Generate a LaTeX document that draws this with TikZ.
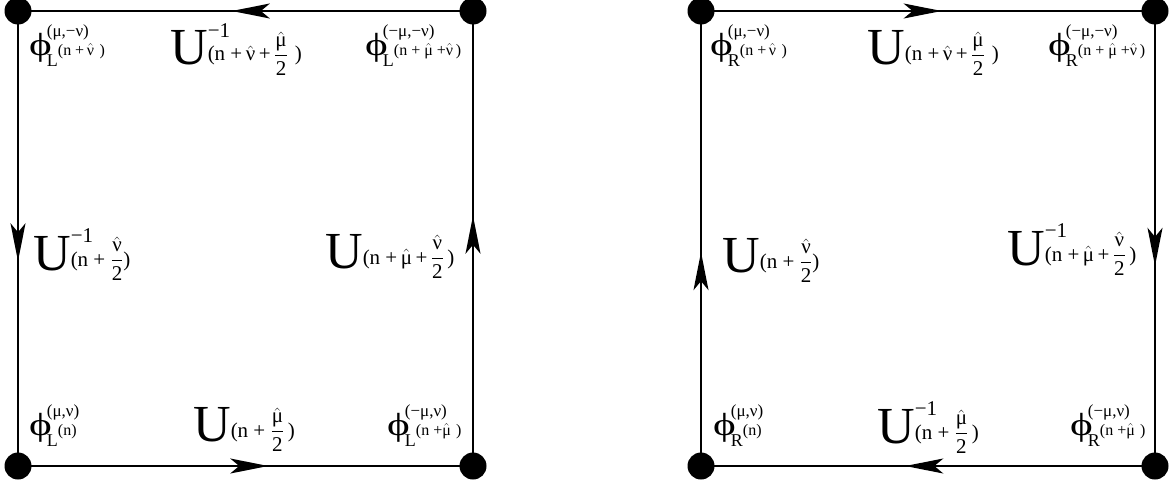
\documentclass[tikz,border=0pt]{standalone}
\usepackage{amsmath}
\usepackage{graphicx}
\usepackage{fontspec}
\setmainfont{Liberation Serif}
\usetikzlibrary{arrows.meta,decorations.markings}

% hatted greek letter and half of it
\newcommand{\hgr}[1]{\ensuremath{\hat{\text{#1}}}}
\newcommand{\hlf}[1]{\ensuremath{\dfrac{\text{#1}}{\text{2}}}}
% field at a corner: #1 = L/R, #2 = upper index, #3 = site
\newcommand{\fld}[3]{\scalebox{1.35}[1]{\fontsize{32}{32}\selectfont ϕ}\kern-5pt%
  \rlap{\raisebox{19pt}{\fontsize{17}{17}\selectfont #2}}%
  \raisebox{-11pt}{\fontsize{18}{18}\selectfont #1}%
  \raisebox{0pt}{\fontsize{16}{16}\selectfont #3}}
% link variable: #1 = power, #2 = site
\newcommand{\lnk}[2]{{\fontsize{52}{52}\selectfont U}%
  \rlap{\raisebox{28pt}{\fontsize{21}{21}\selectfont #1}}%
  \raisebox{4pt}{\fontsize{21}{21}\selectfont #2}}

\begin{document}
\begin{tikzpicture}[
  x=1pt,y=-1pt,
  dot/.style={circle,fill,inner sep=0pt,minimum size=27pt},
  edge/.style={line width=1.7pt},
  flow/.style={postaction={decorate},decoration={markings,
    mark=at position #1 with {\arrow{Stealth[length=38pt,width=15pt,inset=9pt]}}}},
  lbl/.style={anchor=base west,inner sep=0pt}
]
\useasboundingbox (0,0) rectangle (1172,487);

% left plaquette
\node[dot] (ltl) at (18,11) {};
\node[dot] (ltr) at (473,11) {};
\node[dot] (lbl) at (18,466) {};
\node[dot] (lbr) at (473,466) {};
\draw[edge,flow=0.53] (ltr.center) -- (ltl.center);
\draw[edge,flow=0.55] (ltl.center) -- (lbl.center);
\draw[edge,flow=0.55] (lbl.center) -- (lbr.center);
\draw[edge,flow=0.55] (lbr.center) -- (ltr.center);

\node[lbl] (lphitl) at (29,56) {\fld{L}{(μ,−ν)}{(n +\,\hgr{ν}\,\,)}};
\node[lbl] (lutop) at (170,65) {\lnk{−1}{(n +\,\hgr{ν}\,+\,\hlf{\hgr{μ}}\,\,)}};
\node[lbl] (lphitr) at (365,56) {\fld{L}{(−μ,−ν)}{(n + \hgr{μ} +\hgr{ν}\,)}};
\node[lbl] (luleft) at (33,270) {\lnk{−1}{(n + \hlf{\hgr{ν}})}};
\node[lbl] (luright) at (325,268) {\lnk{}{(n +\,\hgr{μ}\,+\,\hlf{\hgr{ν}}\,)}};
\node[lbl] (lphibl) at (29,435) {\fld{L}{(μ,ν)}{(n)}};
\node[lbl] (lubot) at (193,441) {\lnk{}{(n + \hlf{\hgr{μ}}\,)}};
\node[lbl] (lphibr) at (387,435) {\fld{L}{(−μ,ν)}{(n +\hgr{μ}\,\,)}};

% right plaquette
\node[dot] (rtl) at (701,11) {};
\node[dot] (rtr) at (1155,11) {};
\node[dot] (rbl) at (701,466) {};
\node[dot] (rbr) at (1155,466) {};
\draw[edge,flow=0.53] (rtl.center) -- (rtr.center);
\draw[edge,flow=0.56] (rtr.center) -- (rbr.center);
\draw[edge,flow=0.55] (rbr.center) -- (rbl.center);
\draw[edge,flow=0.47] (rbl.center) -- (rtl.center);

\node[lbl] (rphitl) at (710,56) {\fld{R}{(μ,−ν)}{(n +\,\hgr{ν}\,\,)}};
\node[lbl] (rutop) at (867,65) {\lnk{}{(n +\,\hgr{ν}\,+\,\hlf{\hgr{μ}}\,\,)}};
\node[lbl] (rphitr) at (1048,56) {\fld{R}{(−μ,−ν)}{(n + \hgr{μ} +\hgr{ν}\,)}};
\node[lbl] (ruleft) at (722,272) {\lnk{}{(n + \hlf{\hgr{ν}})}};
\node[lbl] (ruright) at (1007,265) {\lnk{−1}{(n +\,\hgr{μ}\,+\,\hlf{\hgr{ν}}\,)}};
\node[lbl] (rphibl) at (713,435) {\fld{R}{(μ,ν)}{(n)}};
\node[lbl] (rubot) at (877,443) {\lnk{−1}{(n + \hlf{\hgr{μ}}\,)}};
\node[lbl] (rphibr) at (1070,435) {\fld{R}{(−μ,ν)}{(n +\hgr{μ}\,\,)}};
\end{tikzpicture}
\end{document}
